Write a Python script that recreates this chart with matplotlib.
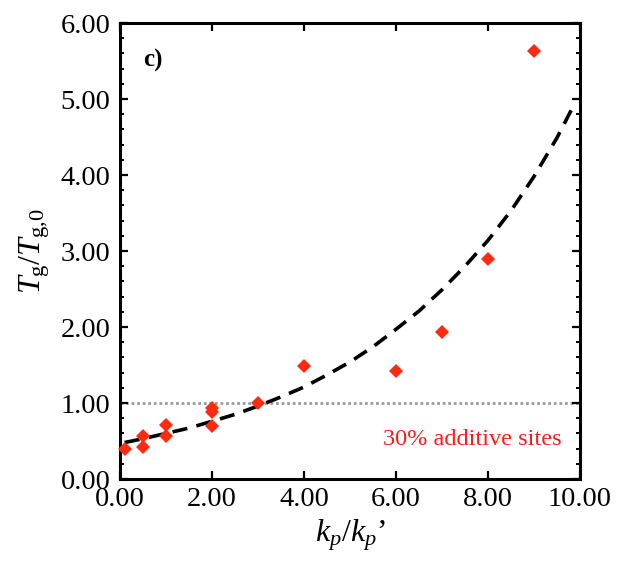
import matplotlib
matplotlib.use("Agg")
import matplotlib.pyplot as plt
from matplotlib.ticker import MultipleLocator, FormatStrFormatter

plt.rcParams['font.family'] = ['Liberation Serif', 'DejaVu Serif']
plt.rcParams['mathtext.fontset'] = 'custom'
plt.rcParams['mathtext.rm'] = 'Liberation Serif'
plt.rcParams['mathtext.it'] = 'Liberation Serif:italic'
plt.rcParams['mathtext.bf'] = 'Liberation Serif:bold'

# data points (kp/kp', Tg/Tg0)
x_pts = [0.1, 0.5, 0.5, 1.0, 1.0, 2.0, 2.0, 2.0, 3.0, 4.0, 6.0, 7.0, 8.0, 9.0]
y_pts = [0.40, 0.57, 0.42, 0.71, 0.57, 0.93, 0.88, 0.70, 1.00, 1.49, 1.42, 1.93, 2.90, 5.63]

# fitted curve
x_fit = [0.1, 0.5, 1.0, 1.5, 2.0, 2.5, 3.0, 3.5, 4.0, 4.5, 5.0, 5.5, 6.0, 6.5, 7.0, 7.5, 8.0, 8.5, 9.0, 9.5, 9.85]
y_fit = [0.48, 0.53, 0.60, 0.67, 0.76, 0.85, 0.96, 1.08, 1.21, 1.37, 1.54, 1.74, 1.97, 2.21, 2.49, 2.80, 3.14, 3.53, 3.98, 4.49, 4.90]

x_ticks = [0, 2, 4, 6, 8, 10]
y_ticks = [0, 1, 2, 3, 4, 5, 6]

fig = plt.figure(figsize=(6.17, 5.67), dpi=100)
ax = fig.add_axes([0.1945, 0.1552, 0.7455, 0.8042])

ax.axhline(1.0, color='#9a9a9a', linestyle=(0, (1, 1)), linewidth=2.0, zorder=1)
ax.plot(x_fit, y_fit, color='black', linewidth=2.6, dashes=(4.2, 2.6), zorder=2)
ax.plot(x_pts, y_pts, linestyle='none', marker='D', markersize=7.4,
        color='#ff2a10', markeredgewidth=0, zorder=3, clip_on=False)

ax.set_xlim(0, 10)
ax.set_ylim(0, 6)
ax.set_xticks(x_ticks)
ax.set_yticks(y_ticks)
ax.yaxis.set_minor_locator(MultipleLocator(0.2))
ax.xaxis.set_major_formatter(FormatStrFormatter('%.2f'))
ax.yaxis.set_major_formatter(FormatStrFormatter('%.2f'))

for s in ax.spines.values():
    s.set_linewidth(2.2)

ax.tick_params(axis='both', which='major', direction='in', length=5.5, width=1.6,
               labelsize=20.5, top=True, right=True, pad=7)
ax.tick_params(axis='y', which='minor', direction='in', length=3.2, width=1.4,
               left=True, right=True)
ax.tick_params(axis='x', which='major', pad=6)

ax.set_xlabel(r"$k_p/k_p$’", fontsize=23, labelpad=4)
ax.set_ylabel(r"$T_{\mathrm{g}}/T_{\mathrm{g{,}0}}$", fontsize=23, labelpad=6)

ax.text(0.05, 0.919, "c)", transform=ax.transAxes, fontsize=18, fontweight='bold',
        ha='left', va='center')
ax.text(9.6, 0.52, "30% additive sites", color='#ff1a1a', fontsize=17.5,
        ha='right', va='center')

fig.savefig("out.png", dpi=100)
